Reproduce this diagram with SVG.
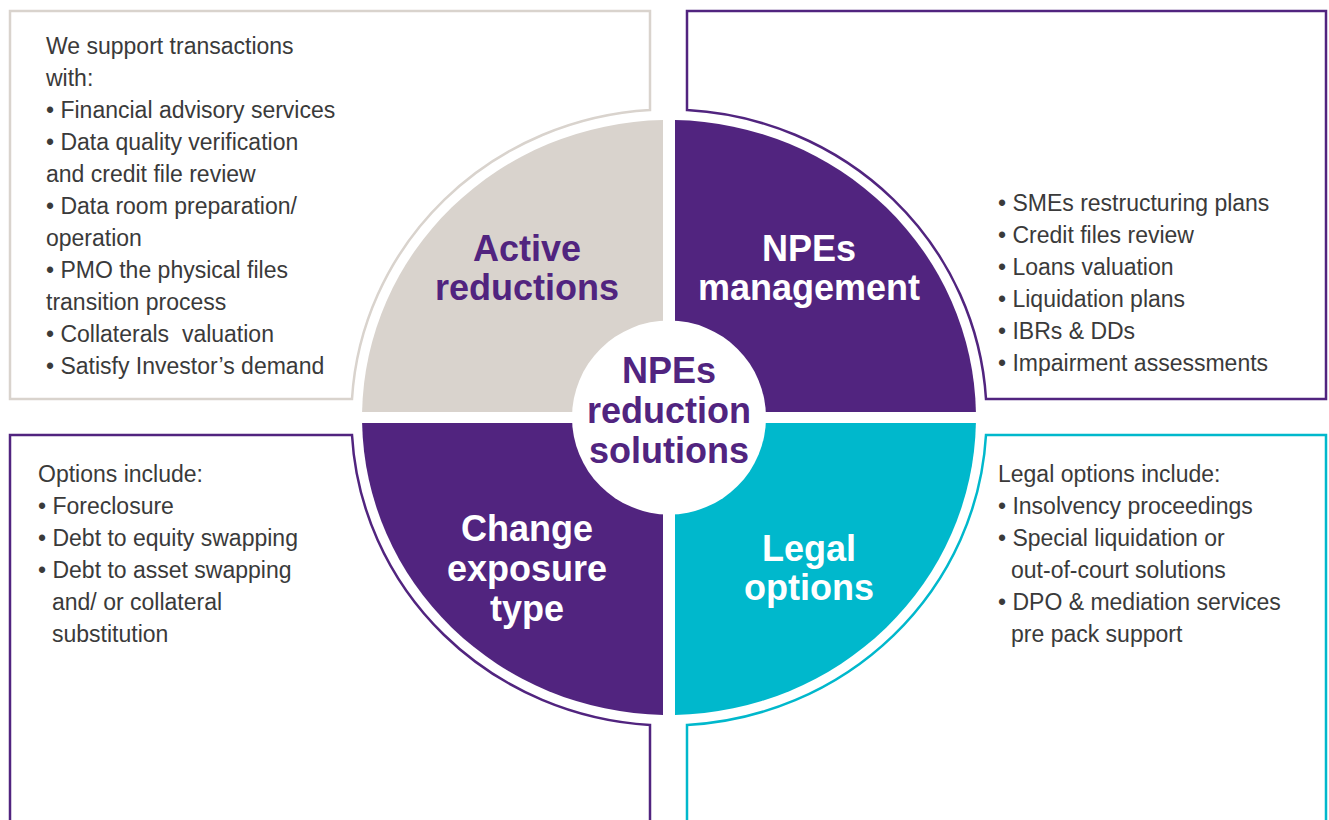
<svg xmlns="http://www.w3.org/2000/svg" width="1329" height="820" viewBox="0 0 1329 820">
  <style>
    .body { font-family: "Liberation Sans", Arial, sans-serif; font-size: 23px; fill: #3a3a3a; }
    .title { font-family: "Liberation Sans", Arial, sans-serif; font-size: 36px; font-weight: bold; text-anchor: middle; }
    .frame { fill: none; stroke-width: 2.5; }
  </style>
  <rect width="1329" height="820" fill="#ffffff"/>

  <!-- outer frames hugging the wheel -->
  <g id="frames">
    <path id="frame-active" class="frame" stroke="#d9d3cd" d="M 10 11 H 650 V 110 A 317.5 308 0 0 0 352 399 H 10 Z"/>
    <path id="frame-npes" class="frame" stroke="#51247f" d="M 687 110 V 11 H 1326 V 399 H 986 A 317.5 308 0 0 0 687 110 Z"/>
    <path id="frame-change" class="frame" stroke="#51247f" d="M 10 830 V 435 H 352 A 317.5 308 0 0 0 650 725 V 830"/>
    <path id="frame-legal" class="frame" stroke="#00b8cc" d="M 687 830 V 725 A 317.5 308 0 0 0 986 435 H 1326 V 830"/>
  </g>

  <!-- quadrant: Active reductions -->
  <g id="node-active-reductions">
    <path fill="#d9d3cd" d="M 663 412 V 120.1 A 307 297.5 0 0 0 362.1 412 Z"/>
    <text class="title" fill="#51247f" x="527" y="261">Active</text>
    <text class="title" fill="#51247f" x="527" y="300">reductions</text>
  </g>

  <!-- quadrant: NPEs management -->
  <g id="node-npes-management">
    <path fill="#51247f" d="M 675 412 H 975.9 A 307 297.5 0 0 0 675 120.1 Z"/>
    <text class="title" fill="#ffffff" x="809" y="261">NPEs</text>
    <text class="title" fill="#ffffff" x="809" y="300">management</text>
  </g>

  <!-- quadrant: Change exposure type -->
  <g id="node-change-exposure">
    <path fill="#51247f" d="M 663 423 H 362.1 A 307 297.5 0 0 0 663 714.9 Z"/>
    <text class="title" fill="#ffffff" x="527" y="541">Change</text>
    <text class="title" fill="#ffffff" x="527" y="581">exposure</text>
    <text class="title" fill="#ffffff" x="527" y="621">type</text>
  </g>

  <!-- quadrant: Legal options -->
  <g id="node-legal-options">
    <path fill="#00b8cc" d="M 675 423 V 714.9 A 307 297.5 0 0 0 975.9 423 Z"/>
    <text class="title" fill="#ffffff" x="809" y="561">Legal</text>
    <text class="title" fill="#ffffff" x="809" y="600">options</text>
  </g>

  <!-- hub -->
  <g id="node-hub">
    <circle cx="669" cy="417.5" r="97" fill="#ffffff"/>
    <text class="title" fill="#51247f" x="669" y="383">NPEs</text>
    <text class="title" fill="#51247f" x="669" y="423">reduction</text>
    <text class="title" fill="#51247f" x="669" y="463">solutions</text>
  </g>

  <!-- descriptions -->
  <g id="text-active" class="body">
    <text x="46" y="54">We support transactions</text>
    <text x="46" y="86">with:</text>
    <text x="46" y="118">• Financial advisory services</text>
    <text x="46" y="150">• Data quality verification</text>
    <text x="46" y="182">and credit file review</text>
    <text x="46" y="214">• Data room preparation/</text>
    <text x="46" y="246">operation</text>
    <text x="46" y="278">• PMO the physical files</text>
    <text x="46" y="310">transition process</text>
    <text x="46" y="342">• Collaterals&#160; valuation</text>
    <text x="46" y="374">• Satisfy Investor’s demand</text>
  </g>

  <g id="text-npes" class="body">
    <text x="998" y="211">• SMEs restructuring plans</text>
    <text x="998" y="243">• Credit files review</text>
    <text x="998" y="275">• Loans valuation</text>
    <text x="998" y="307">• Liquidation plans</text>
    <text x="998" y="339">• IBRs &amp; DDs</text>
    <text x="998" y="371">• Impairment assessments</text>
  </g>

  <g id="text-change" class="body">
    <text x="38" y="482">Options include:</text>
    <text x="38" y="514">• Foreclosure</text>
    <text x="38" y="546">• Debt to equity swapping</text>
    <text x="38" y="578">• Debt to asset swapping</text>
    <text x="52" y="610">and/ or collateral</text>
    <text x="52" y="642">substitution</text>
  </g>

  <g id="text-legal" class="body">
    <text x="998" y="482">Legal options include:</text>
    <text x="998" y="514">• Insolvency proceedings</text>
    <text x="998" y="546">• Special liquidation or</text>
    <text x="1011" y="578">out-of-court solutions</text>
    <text x="998" y="610">• DPO &amp; mediation services</text>
    <text x="1011" y="642">pre pack support</text>
  </g>
</svg>
